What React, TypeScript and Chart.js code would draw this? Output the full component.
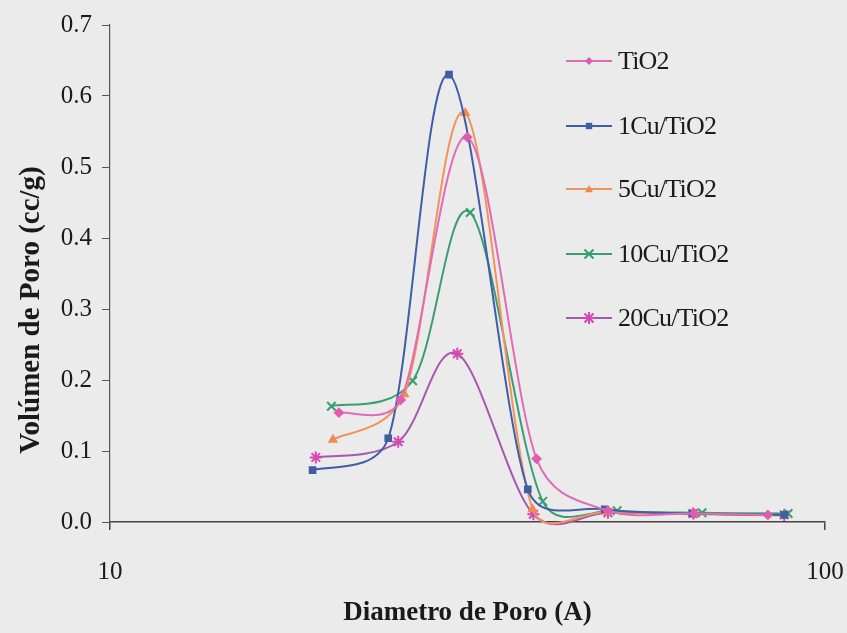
import React, { useEffect, useRef } from "react";
import { Chart, registerables } from "chart.js";

Chart.register(...registerables);

// ---- data ----
const seriesNames = ["TiO2", "1Cu/TiO2", "5Cu/TiO2", "10Cu/TiO2", "20Cu/TiO2"];

const tio2X = [20.9, 25.5, 31.6, 39.5, 49.7, 65.6, 83.2];
const tio2Y = [0.154, 0.172, 0.542, 0.089, 0.016, 0.012, 0.010];

const cu1X = [19.2, 24.5, 29.8, 38.4, 49.2, 65.2, 87.7];
const cu1Y = [0.073, 0.118, 0.63, 0.046, 0.018, 0.012, 0.010];

const cu5X = [20.5, 25.8, 31.4, 39.0, 49.5, 65.4, 87.7];
const cu5Y = [0.116, 0.18, 0.576, 0.018, 0.014, 0.011, 0.009];

const cu10X = [20.4, 26.5, 31.9, 40.3, 51.2, 67.3, 88.8];
const cu10Y = [0.163, 0.199, 0.436, 0.029, 0.016, 0.013, 0.012];

const cu20X = [19.4, 25.3, 30.6, 39.1, 49.7, 65.4, 87.7];
const cu20Y = [0.091, 0.113, 0.237, 0.011, 0.013, 0.012, 0.010];

const xTickValues = [10, 100];
const yMin = 0;
const yMax = 0.7;
const yStep = 0.1;

const xTitle = "Diametro de Poro (A)";
const yTitle = "Volúmen de Poro (cc/g)";

const lineColors = ["#e06cb8", "#3f5ea6", "#f2935c", "#3c9c72", "#a857ae"];
const markerColors = ["#e05cb0", "#3f5ea6", "#f28a50", "#34a06c", "#d449b4"];
const markerStyles = ["rectRot", "rect", "triangle", "crossRot", "star"];

const SERIF = "'Liberation Serif', 'DejaVu Serif', serif";

const xs = [tio2X, cu1X, cu5X, cu10X, cu20X];
const ys = [tio2Y, cu1Y, cu5Y, cu10Y, cu20Y];

function drawMarker(ctx: CanvasRenderingContext2D, style: string, r: number, x: number, y: number) {
  ctx.lineWidth = 2;
  ctx.beginPath();
  if (style === "rectRot") {
    ctx.moveTo(x, y - r);
    ctx.lineTo(x + r, y);
    ctx.lineTo(x, y + r);
    ctx.lineTo(x - r, y);
    ctx.closePath();
    ctx.fill();
  } else if (style === "rect") {
    ctx.rect(x - r * 0.8, y - r * 0.8, r * 1.6, r * 1.6);
    ctx.fill();
  } else if (style === "triangle") {
    ctx.moveTo(x, y - r);
    ctx.lineTo(x + r, y + r * 0.8);
    ctx.lineTo(x - r, y + r * 0.8);
    ctx.closePath();
    ctx.fill();
  } else if (style === "crossRot") {
    const d = r * 0.75;
    ctx.moveTo(x - d, y - d);
    ctx.lineTo(x + d, y + d);
    ctx.moveTo(x + d, y - d);
    ctx.lineTo(x - d, y + d);
    ctx.stroke();
  } else {
    const d = r * 0.75;
    ctx.moveTo(x - d, y - d);
    ctx.lineTo(x + d, y + d);
    ctx.moveTo(x + d, y - d);
    ctx.lineTo(x - d, y + d);
    ctx.moveTo(x, y - r);
    ctx.lineTo(x, y + r);
    ctx.moveTo(x - r, y);
    ctx.lineTo(x + r, y);
    ctx.stroke();
  }
}

export default function App() {
  const ref = useRef<HTMLCanvasElement | null>(null);

  useEffect(() => {
    if (!ref.current) return;

    const datasets = seriesNames.map((name, i) => ({
      label: name,
      data: xs[i].map((x, j) => ({ x, y: ys[i][j] })),
      borderColor: lineColors[i],
      backgroundColor: markerColors[i],
      pointBorderColor: markerColors[i],
      pointBackgroundColor: markerColors[i],
      pointStyle: markerStyles[i],
      pointRadius: i === 3 || i === 4 ? 6 : 4,
      pointBorderWidth: 2,
      borderWidth: 2,
      tension: 0.5,
      fill: false,
      clip: 10,
    }));

    // Spreadsheet-style smoothing: Catmull-Rom tangents, each side limited
    // by the distance-weighted length so short segments do not overshoot.
    const smoothPlugin = {
      id: "xlSmooth",
      beforeDatasetDraw(chart: any, args: any) {
        const meta = args.meta;
        const line = meta.dataset;
        if (!line) return;
        line.updateControlPoints(chart.chartArea, "x");
        const pts = meta.data;
        const n = pts.length;
        const t = 0.5;
        for (let i = 0; i < n; i++) {
          const p = pts[i];
          const p0 = pts[i - 1] || p;
          const p2 = pts[i + 1] || p;
          const d01 = Math.hypot(p.x - p0.x, p.y - p0.y);
          const d12 = Math.hypot(p2.x - p.x, p2.y - p.y);
          const sum = d01 + d12 || 1;
          const fPrev = Math.min(1 / 6, (t * d01) / sum);
          const fNext = Math.min(1 / 6, (t * d12) / sum);
          const dx = p2.x - p0.x;
          const dy = p2.y - p0.y;
          p.cp1x = p.x - dx * fPrev;
          p.cp1y = p.y - dy * fPrev;
          p.cp2x = p.x + dx * fNext;
          p.cp2y = p.y + dy * fNext;
        }
        line._path = undefined;
      },
    };

    const legendPlugin = {
      id: "customLegend",
      afterDraw(chart: any) {
        const ctx = chart.ctx;
        const rows = [61, 126, 189, 254, 318];
        ctx.save();
        seriesNames.forEach((name, i) => {
          const y = rows[i];
          ctx.strokeStyle = lineColors[i];
          ctx.lineWidth = 2;
          ctx.beginPath();
          ctx.moveTo(566, y);
          ctx.lineTo(612, y);
          ctx.stroke();
          const r = i === 3 || i === 4 ? 6 : 4;
          ctx.fillStyle = markerColors[i];
          ctx.strokeStyle = markerColors[i];
          drawMarker(ctx, markerStyles[i], r, 589, y);
          ctx.fillStyle = "#1a1a1a";
          ctx.font = `26px ${SERIF}`;
          try {
            (ctx as any).letterSpacing = "-0.8px";
          } catch (e) {}
          ctx.textBaseline = "middle";
          ctx.textAlign = "left";
          ctx.fillText(name, 618, y + 1);
        });
        ctx.restore();

        // y axis title
        ctx.save();
        ctx.translate(32, 310);
        ctx.rotate(-Math.PI / 2);
        ctx.font = `bold 29px ${SERIF}`;
        try {
          (ctx as any).letterSpacing = "0px";
        } catch (e) {}
        ctx.fillStyle = "#1a1a1a";
        ctx.textAlign = "center";
        ctx.textBaseline = "middle";
        ctx.fillText(yTitle, 0, 0);
        ctx.restore();
      },
    };

    const bgPlugin = {
      id: "bg",
      beforeDraw(chart: any) {
        const ctx = chart.ctx;
        ctx.save();
        ctx.fillStyle = "#ebebeb";
        ctx.fillRect(0, 0, chart.width, chart.height);
        ctx.restore();
      },
    };

    const chart = new Chart(ref.current, {
      type: "line",
      data: { datasets: datasets as any },
      plugins: [bgPlugin, smoothPlugin, legendPlugin],
      options: {
        animation: false,
        responsive: false,
        maintainAspectRatio: false,
        layout: { padding: { left: 0, right: 0, top: 25, bottom: 0 } },
        plugins: {
          legend: { display: false },
          tooltip: { enabled: false },
        },
        scales: {
          x: {
            type: "logarithmic",
            min: 10,
            max: 100,
            afterBuildTicks: (scale: any) => {
              scale.ticks = xTickValues.map((v) => ({ value: v }));
            },
            afterFit: (scale: any) => {
              scale.height = 111;
              scale.paddingRight = 22;
              scale.paddingLeft = 0;
            },
            ticks: {
              color: "#1a1a1a",
              font: { family: SERIF, size: 25 },
              padding: 27,
              maxRotation: 0,
              autoSkip: false,
              callback: (v: any) => String(v),
            },
            grid: {
              drawOnChartArea: false,
              drawTicks: true,
              tickLength: 8,
              color: "#444",
              lineWidth: 1.5,
            },
            border: { display: true, color: "#444", width: 1.5 },
            title: {
              display: true,
              text: xTitle,
              color: "#1a1a1a",
              font: { family: SERIF, size: 27, weight: "bold" },
              padding: { top: 0, bottom: 4 },
            },
          },
          y: {
            type: "linear",
            min: yMin,
            max: yMax,
            afterFit: (scale: any) => {
              scale.width = 110;
            },
            ticks: {
              stepSize: yStep,
              color: "#1a1a1a",
              font: { family: SERIF, size: 25 },
              padding: 10,
              callback: (v: any) => Number(v).toFixed(1),
            },
            grid: {
              drawOnChartArea: false,
              drawTicks: true,
              tickLength: 8,
              color: "#555",
              lineWidth: 1,
            },
            border: { display: true, color: "#555", width: 1.2 },
          },
        },
      },
    });

    return () => chart.destroy();
  }, []);

  return (
    <div style={{ position: "fixed", left: 0, top: 0, width: 847, height: 633, background: "#ebebeb" }}>
      <canvas ref={ref} width={847} height={633} style={{ width: 847, height: 633, display: "block" }} />
    </div>
  );
}
